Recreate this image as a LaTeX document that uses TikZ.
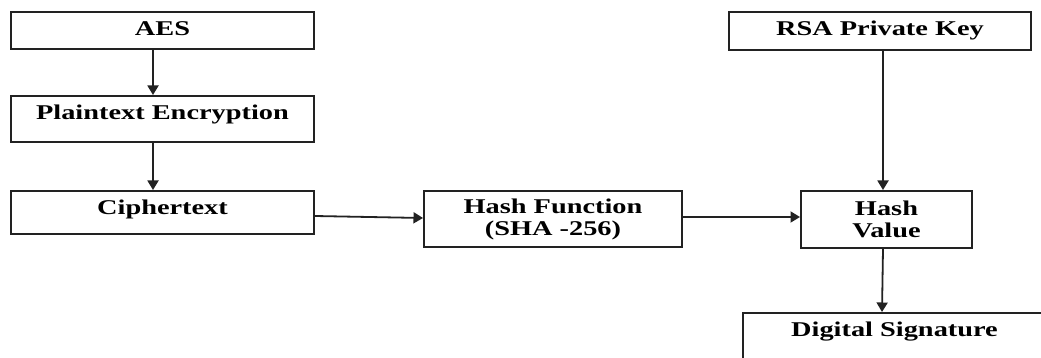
\documentclass[tikz,border=0pt]{standalone}
\usepackage{fontspec}
\setmainfont{Liberation Serif}[FakeStretch=1.35]
\usetikzlibrary{arrows.meta,calc}
\definecolor{ink}{HTML}{222222}
\tikzset{
  box/.style={draw=ink, line width=2pt, fill=white, rectangle, anchor=north west,
    inner xsep=0pt, inner ysep=6.5pt, text height=17pt,
    font=\fontsize{21}{22}\selectfont\bfseries, text=black},
  box2/.style={draw=ink, line width=2pt, fill=white, rectangle, anchor=north west,
    inner sep=0pt, align=center,
    font=\fontsize{21}{22}\selectfont\bfseries, text=black},
  arr/.style={draw=ink, line width=1.8pt, -{Triangle[width=11pt,length=9.5pt]}},
}
\begin{document}
\begin{tikzpicture}[x=1pt,y=-1pt]
\useasboundingbox (0,0) rectangle (1041,358);
\clip (0,0) rectangle (1041,358);
\fill[white] (0,0) rectangle (1041,358);
\node[box, minimum width=303pt, text depth=7pt] (aes) at (10,11) {AES};
\node[box, minimum width=303pt, text depth=16pt] (plain) at (10,95) {Plaintext Encryption};
\node[box, minimum width=303pt, text depth=13pt] (cipher) at (10,190) {Ciphertext};
\node[box2, minimum width=258pt, minimum height=56pt] (hashf) at (423,190) {Hash Function\\(SHA -256)};
\node[box, minimum width=302pt, text depth=8pt] (rsa) at (728,11) {RSA Private Key};
\node[box2, minimum width=171pt, minimum height=57pt] (hashv) at (800,190) {Hash\\Value};
\node[box, minimum width=303pt, text depth=30pt] (dsig) at (742,312) {Digital Signature};
\draw[arr] ([xshift=-9.5pt]aes.south) -- ([xshift=-9.5pt]plain.north);
\draw[arr] ([xshift=-9.5pt]plain.south) -- ([xshift=-9.5pt]cipher.north);
\draw[arr] ($(cipher.east)+(0,3.5)$) -- ($(hashf.west)+(0,-1)$);
\draw[arr] ($(hashf.east)+(0,-2)$) -- ($(hashv.west)+(0,-2.5)$);
\draw[arr] ([xshift=3pt]rsa.south) -- ([xshift=-3.5pt]hashv.north);
\draw[arr] ([xshift=-3.5pt]hashv.south) -- ($(dsig.north west)+(140,0)$);
\end{tikzpicture}
\end{document}
